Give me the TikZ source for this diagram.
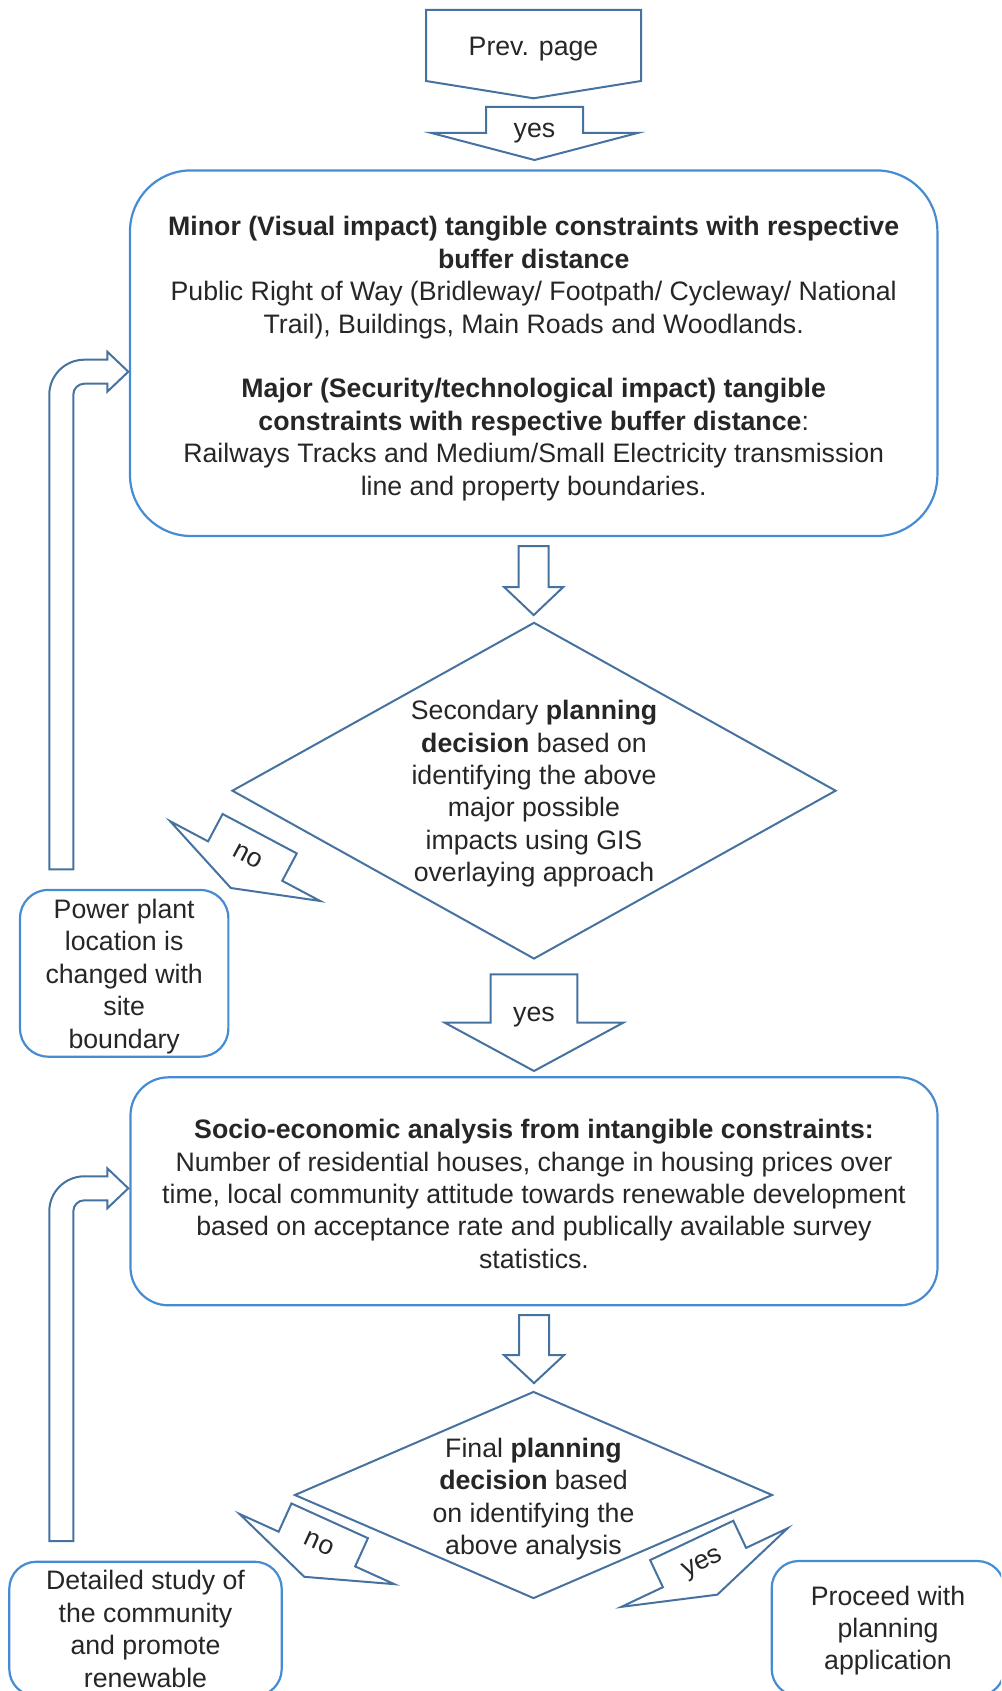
\documentclass[tikz,border=0pt]{standalone}
\usepackage{fontspec}
\setmainfont{Liberation Sans}
\usetikzlibrary{shapes.geometric}

\definecolor{boxblue}{RGB}{70,140,210}
\definecolor{arrowblue}{RGB}{70,114,160}
\definecolor{txtgray}{RGB}{38,38,38}

% raises the first line of a node so that its text sits lower
\newcommand{\headroom}[1]{\rule{0pt}{#1}}

\tikzset{
  pics/blockarrow/.style n args={4}{code={
    \draw[arrowline] (-#1,0) -- (#1,0) -- (#1,#2) -- (#3,#2) -- (0,#2+#4) -- (-#3,#2) -- (-#1,#2) -- cycle;
  }},
  pics/labelarrow/.style n args={6}{code={
    \draw[arrowline] (-#1,0) -- (#1,0) -- (#1,#2) -- (#3,#2) -- (0,#2+#4) -- (-#3,#2) -- (-#1,#2) -- cycle;
    \node[arrowtext] (-label) at (0,#6) {#5};
  }},
  pics/loopback/.style={code={
    \draw[arrowline] (-79,#1) -- (-79,23) arc[start angle=180,end angle=270,radius=35]
      -- (-21,-12) -- (-21,-20) -- (0,0) -- (-21,20) -- (-21,12) -- (-44,12)
      arc[start angle=270,end angle=180,radius=11] -- (-55,#1) -- cycle;
  }},
}

\begin{document}
\begin{tikzpicture}[x=0.5pt, y=-0.5pt,
  every node/.style={font=\fontsize{13.35}{16.2}\selectfont, text=txtgray,
    inner sep=0pt, align=center},
  roundbox/.style n args={3}{rectangle, draw=boxblue, line width=1.1pt,
    minimum width=#1, minimum height=#2, rounded corners=#3},
  decision/.style={diamond, draw=arrowblue, line width=1pt, inner sep=-4pt},
  arrowline/.style={draw=arrowblue, line width=1pt},
  arrowtext/.style={transform shape}]

  \useasboundingbox (0,0) rectangle (1001,1691);
  \clip (0,0) rectangle (1001,1691);

  % off-page connector
  \node (prev) at (533.5,49.5) {Prev. page};
  \draw[arrowline] (426,10) -- (641,10) -- (641,81) -- (533.5,98.3) -- (426,81) -- cycle;
  \pic (yes1) at (534.5,107) {labelarrow={48.5}{26}{103}{27}{yes}{26}};

  % tangible constraints
  \node[roundbox={403.7pt}{182.8pt}{30.5pt}] (minor) at (533.7,353.2)
    {\headroom{15.1pt}\textbf{Minor (Visual impact) tangible constraints with respective}\\
     \textbf{buffer distance}\\
     Public Right of Way (Bridleway/ Footpath/ Cycleway/ National\\
     Trail), Buildings, Main Roads and Woodlands.\\[16.2pt]
     \textbf{Major (Security/technological impact) tangible}\\
     \textbf{constraints with respective buffer distance}:\\
     Railways Tracks and Medium/Small Electricity transmission\\
     line and property boundaries.};
  \pic at ([yshift=-4.5pt]minor.south) {blockarrow={15}{41}{29.5}{28}};

  \node[decision, minimum width=302pt, minimum height=168.3pt, aspect=1.8] (dec1) at (534,790.7)
    {\headroom{12.8pt}Secondary \textbf{planning}\\
     \textbf{decision} based on\\
     identifying the above\\
     major possible\\
     impacts using GIS\\
     overlaying approach};

  \pic[rotate=-28] (no1) at (259.7,833.7) {labelarrow={42}{31}{85}{30.5}{no}{25}};
  \node[roundbox={104.15pt}{83.35pt}{14pt}] (relocate) at (124.2,973.3)
    {\headroom{12.8pt}Power plant\\location is\\changed with\\site\\boundary};
  \pic at (128.3,371.7) {loopback=497.6};

  \pic (yes2) at ([yshift=-7.15pt]dec1.south) {labelarrow={43.3}{48.4}{89.2}{48.3}{yes}{42.6}};

  % intangible constraints
  \node[roundbox={403.5pt}{114pt}{19pt}] (socio) at (534,1191.3)
    {\headroom{12.4pt}\textbf{Socio-economic analysis from intangible constraints:}\\
     Number of residential houses, change in housing prices over\\
     time, local community attitude towards renewable development\\
     based on acceptance rate and publically available survey\\
     statistics.};
  \pic at ([yshift=-4.35pt]socio.south) {blockarrow={15}{40}{30}{28}};

  \node[decision, minimum width=239pt, minimum height=103.5pt, aspect=2.31] (dec2) at (533.5,1495)
    {\headroom{13.9pt}Final \textbf{planning}\\
     \textbf{decision} based\\
     on identifying the\\
     above analysis};

  \pic[rotate=-24.4] (no2) at (329.7,1520.8) {labelarrow={42}{31}{85}{30.5}{no}{25}};
  \pic[rotate=25.3] (yes3) at (691.7,1540.4) {labelarrow={46}{30}{92}{30}{yes}{27}};

  \node[roundbox={136.2pt}{67.15pt}{13.5pt}] (study) at (145.5,1628.9)
    {Detailed study of\\the community\\and promote\\renewable};
  \node[roundbox={116.3pt}{67.5pt}{13.5pt}] (proceed) at (888,1628.5)
    {\headroom{11.8pt}Proceed with\\planning\\application};
  \pic at (128.3,1188.3) {loopback=352.7};
\end{tikzpicture}
\end{document}
